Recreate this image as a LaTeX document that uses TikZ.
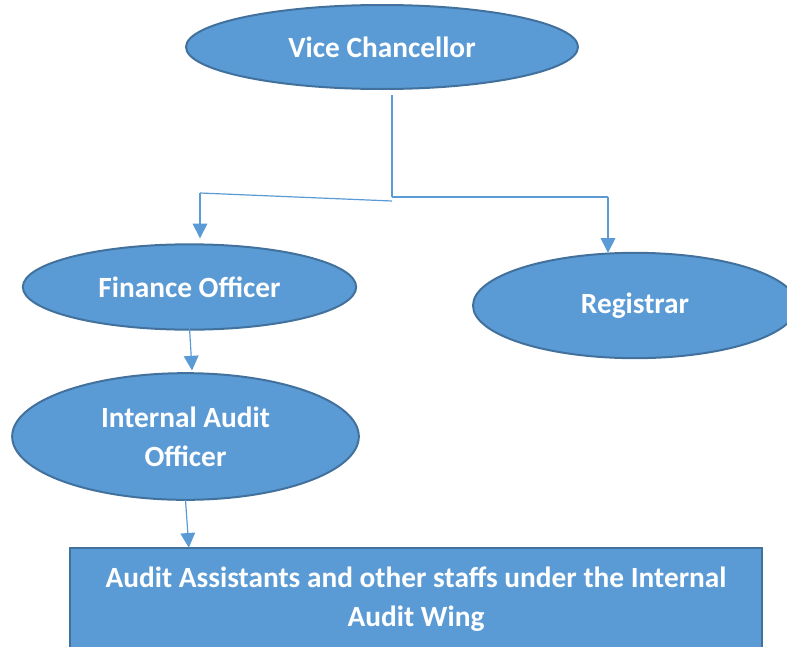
\documentclass[tikz,border=0pt]{standalone}
\usepackage{fontspec}
\setmainfont{Carlito}
\usetikzlibrary{arrows.meta,shapes.geometric}

\definecolor{boxfill}{HTML}{5B9BD5}
\definecolor{boxedge}{HTML}{41719C}

\begin{document}
\begin{tikzpicture}[x=0.75pt,y=-0.75pt,
  >={Triangle[width=11pt,length=11pt]},
  line width=0.9pt,draw=boxfill]
  \tikzstyle{every node}=[font=\fontsize{22}{29}\selectfont\bfseries,text=white]
  \tikzstyle{post}=[ellipse,fill=boxfill,draw=boxedge,line width=1.5pt,
    inner sep=0pt,outer sep=0pt,align=center]
  \tikzstyle{wing}=[rectangle,fill=boxfill,draw=boxedge,line width=1.5pt,
    inner sep=0pt,outer sep=0pt,align=center]
  \tikzstyle{link}=[draw=boxfill,line width=0.9pt]

  \useasboundingbox (0,0) rectangle (787,646);
  \clip (0,0) rectangle (787,646);

  \node[post,minimum width=294pt,minimum height=63pt] (vc)  at (382,47)    {Vice Chancellor};
  \node[post,minimum width=250pt,minimum height=64pt] (fo)  at (189.5,287) {Finance Officer};
  \node[post,minimum width=243pt,minimum height=79pt] (reg) at (635,305.5) {Registrar};
  \node[post,minimum width=260pt,minimum height=95pt] (iao) at (185.5,436.5)
    {Internal Audit\\Officer};
  \node[wing,minimum width=519pt,minimum height=77pt] (wing) at (416,599)
    {Audit Assistants and other staffs under the Internal\\Audit Wing};

  \coordinate (j)  at (392,197);
  \coordinate (jl) at (200,193);
  \coordinate (jr) at (608,197);

  \draw[link] ([xshift=7.5pt,yshift=-4.5pt]vc.south) -- (j);
  \draw[link] ([yshift=-3pt]j) -- (jl);
  \draw[link] (j) -- (jr);
  \draw[link,->,shorten >=4.5pt] (jl) -- (jl |- fo.north);
  \draw[link,->] (jr) -- (jr |- reg.north);
  \draw[link,->] ([yshift=1.5pt]fo.south) -- ([xshift=4.9pt,yshift=2pt]iao.north);
  \draw[link,->] (iao.south) -- ([xshift=2.5pt]iao.south |- wing.north);
\end{tikzpicture}
\end{document}
